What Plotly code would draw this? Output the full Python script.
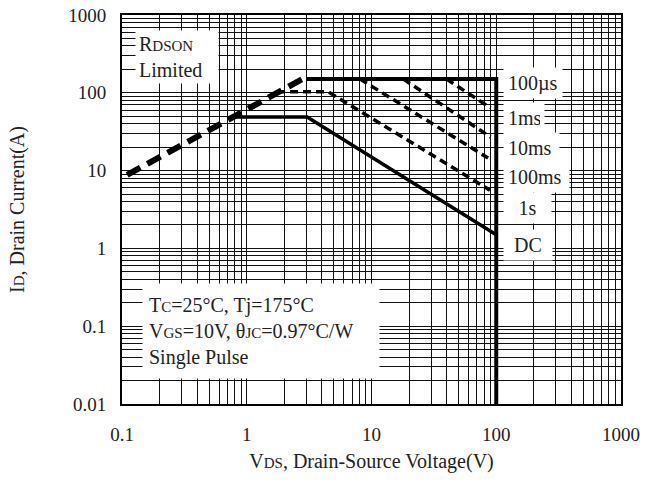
import plotly.graph_objects as go

# ---------------- data ----------------
x_decades = [0.1, 1, 10, 100, 1000]
x_tick_labels = ["0.1", "1", "10", "100", "1000"]
y_decades = [0.01, 0.1, 1, 10, 100, 1000]
y_tick_labels = ["0.01", "0.1", "1", "10", "100", "1000"]

rdson_v = [0.11, 2.9]
rdson_i = [8.8, 155]

limit_v = [3.0, 100, 100]          # 100 us solid envelope + 100 V limit
limit_i = [150, 150, 0.01]

us100_v = [40, 90]
us100_i = [150, 64]

ms1_v = [18, 90]
ms1_i = [150, 27]

ms10_v = [8.1, 86]
ms10_i = [150, 14.5]

ms100_v = [1.75, 4.5, 89]
ms100_i = [103, 103, 5.6]

dc_v = [0.76, 3.05, 100]
dc_i = [49, 49, 1.5]

curve_labels = ["100µs", "1ms", "10ms", "100ms", "1s", "DC"]

# ---------------- figure ----------------
FONT = "Liberation Serif"
TXT = "#222222"

def grid_vals(decades):
    vals = []
    for d in decades[:-1]:
        vals += [d * k for k in range(1, 10)]
    vals.append(decades[-1])
    return vals

def grid_text(decades, labels):
    out = []
    for d, lab in zip(decades[:-1], labels[:-1]):
        out += [lab] + [""] * 8
    out.append(labels[-1])
    return out

fig = go.Figure()

fig.add_trace(go.Scatter(x=rdson_v, y=rdson_i, mode="lines",
                         line=dict(color="black", width=6, dash="15px,8px")))
fig.add_trace(go.Scatter(x=limit_v, y=limit_i, mode="lines",
                         line=dict(color="black", width=4)))
for xv, yv in [(us100_v, us100_i), (ms1_v, ms1_i), (ms10_v, ms10_i), (ms100_v, ms100_i)]:
    fig.add_trace(go.Scatter(x=xv, y=yv, mode="lines",
                             line=dict(color="black", width=3.5, dash="8px,5px")))
fig.add_trace(go.Scatter(x=dc_v, y=dc_i, mode="lines",
                         line=dict(color="black", width=3.5)))

sm = "<span style='font-size:15px'>%s</span>"

axis_common = dict(
    type="log", showgrid=True, gridcolor="#111111", gridwidth=1,
    showline=True, linecolor="black", linewidth=2, mirror=True,
    ticks="", zeroline=False, automargin=False,
    tickfont=dict(family=FONT, size=19, color=TXT),
)

fig.update_xaxes(
    **axis_common,
    range=[-1, 3],
    tickmode="array", tickvals=grid_vals(x_decades), ticktext=grid_text(x_decades, x_tick_labels),
    ticklabelstandoff=12,
    title=dict(text="V" + sm % "DS" + ", Drain-Source Voltage(V)",
               font=dict(family=FONT, size=20, color=TXT), standoff=10),
)
fig.update_yaxes(
    **axis_common,
    range=[-2, 3],
    tickmode="array", tickvals=grid_vals(y_decades), ticktext=grid_text(y_decades, y_tick_labels),
    ticklabelstandoff=10,
    title=dict(text="I" + sm % "D" + ", Drain Current(A)",
               font=dict(family=FONT, size=20, color=TXT), standoff=38),
)

annots = []
annots.append(dict(
    x=-0.896, y=2.46, xref="x", yref="y", xanchor="left", yanchor="middle",
    text="R" + sm % "DSON" + "<br>Limited", align="left", showarrow=False,
    bgcolor="white", borderpad=3, width=76, height=46,
    font=dict(family=FONT, size=20, color=TXT)))
annots.append(dict(
    x=-0.84, y=-1.062, xref="x", yref="y", xanchor="left", yanchor="middle",
    text=("T" + sm % "C" + "=25°C, Tj=175°C<br>"
          "V" + sm % "GS" + "=10V, θ" + sm % "JC" + "=0.97°C/W<br>"
          "Single Pulse"),
    align="left", showarrow=False, bgcolor="white", borderpad=6, width=224, height=82,
    font=dict(family=FONT, size=20, color=TXT)))

label_y = [2.125, 1.676, 1.290, 0.918, 0.519, 0.044]
label_w = [50, 32, 47, 57, 39, 40]
for lab, ly, lw in zip(curve_labels, label_y, label_w):
    annots.append(dict(
        x=2.055, y=ly, xref="x", yref="y", xanchor="left", yanchor="middle",
        text=lab, align="left" if lab not in ("1s", "DC") else "center", showarrow=False,
        bgcolor="white", borderpad=4, width=lw, height=22,
        font=dict(family=FONT, size=20, color=TXT)))

fig.update_layout(
    width=646, height=483,
    margin=dict(l=122, r=25, t=15, b=79, autoexpand=False),
    paper_bgcolor="white", plot_bgcolor="white",
    showlegend=False,
    annotations=annots,
    font=dict(family=FONT, color=TXT),
)

fig.write_html("out.html", config={"displayModeBar": False},
               post_script="document.body.style.margin='0';document.body.style.overflow='hidden';")
